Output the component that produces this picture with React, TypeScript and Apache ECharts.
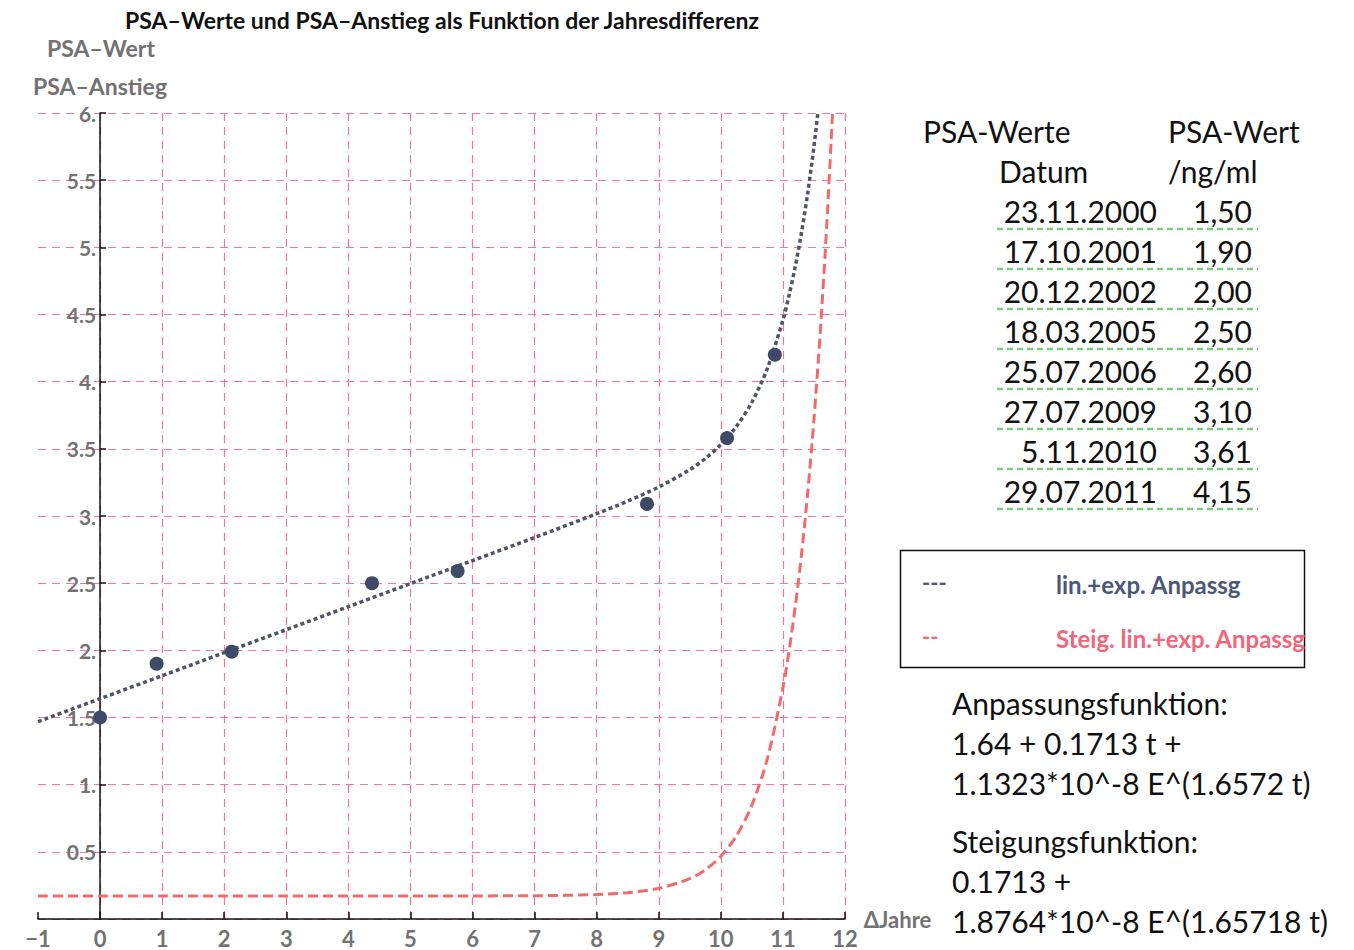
import React, { useEffect, useRef } from "react";
import * as echarts from "echarts";

// measured PSA points (Δ years, PSA value) as drawn
const pointX = [0, 0.91, 2.12, 4.38, 5.76, 8.81, 10.1, 10.87];
const pointY = [1.5, 1.9, 1.99, 2.5, 2.59, 3.09, 3.58, 4.2];

// fit curve (lin.+exp. Anpassg)
const fitT = [-1, 0, 1, 2, 3, 4, 5, 6, 7, 8, 8.5, 9, 9.5, 9.75, 10, 10.25, 10.5, 10.75, 11, 11.1, 11.2, 11.3, 11.4, 11.5, 11.58];
const fitV = [1.469, 1.64, 1.811, 1.983, 2.154, 2.325, 2.497, 2.668, 2.84, 3.017, 3.111, 3.216, 3.345, 3.428, 3.531, 3.666, 3.847, 4.099, 4.459, 4.645, 4.861, 5.112, 5.407, 5.751, 6.069];

// slope curve (Steig. lin.+exp. Anpassg)
const slopeT = [-1, 0, 1, 2, 3, 4, 5, 6, 7, 8, 8.5, 9, 9.5, 9.75, 10, 10.25, 10.5, 10.75, 11, 11.1, 11.2, 11.3, 11.4, 11.5, 11.6, 11.7, 11.8];
const slopeV = [0.171, 0.171, 0.171, 0.171, 0.171, 0.171, 0.171, 0.172, 0.173, 0.182, 0.196, 0.228, 0.3, 0.366, 0.467, 0.618, 0.848, 1.195, 1.721, 2.0, 2.329, 2.718, 3.177, 3.719, 4.358, 5.113, 6.003];

// table
const tableHead1 = ["PSA-Werte", "PSA-Wert"];
const tableHead2 = ["Datum", "/ng/ml"];
const tableDates = ["23.11.2000", "17.10.2001", "20.12.2002", "18.03.2005", "25.07.2006", "27.07.2009", "5.11.2010", "29.07.2011"];
const tableValues = ["1,50", "1,90", "2,00", "2,50", "2,60", "3,10", "3,61", "4,15"];

const legendLabels = ["lin.+exp. Anpassg", "Steig. lin.+exp. Anpassg"];
const formulaLines = [
  "Anpassungsfunktion:",
  "1.64 + 0.1713 t +",
  "1.1323*10^-8 E^(1.6572 t)",
];
const slopeLines = ["Steigungsfunktion:", "0.1713 +", "1.8764*10^-8 E^(1.65718 t)"];

const titleText = "PSA–Werte und PSA–Anstieg als Funktion der Jahresdifferenz";

const FONT = "Lato, 'Open Sans', sans-serif";
const PINK = "#f4739f";
const GRAY = "#727272";

export default function App() {
  const ref = useRef<HTMLDivElement>(null);
  useEffect(() => {
    if (!ref.current) return;
    const chart = echarts.init(ref.current, undefined, { renderer: "svg" });

    const graphics: any[] = [];
    const txt = (text: string, x: number, y: number, o: any = {}) =>
      graphics.push({
        type: "text",
        x,
        y,
        z: 10,
        style: {
          text,
          fill: o.fill || "#111",
          fontSize: o.size || 30,
          fontWeight: o.weight || "normal",
          fontFamily: FONT,
          align: o.align || "left",
          verticalAlign: "middle",
        },
      });

    txt(titleText, 442, 20, { size: 23, weight: "bold", align: "center" });
    txt("PSA–Wert", 101, 48, { size: 23, weight: "bold", align: "center", fill: GRAY });
    txt("PSA–Anstieg", 100, 86, { size: 23, weight: "bold", align: "center", fill: GRAY });

    txt(tableHead1[0], 923, 131);
    txt(tableHead1[1], 1168, 131);
    txt(tableHead2[0], 999, 171);
    txt(tableHead2[1], 1168, 171);
    tableDates.forEach((d, i) => {
      const y = 211 + i * 40;
      txt(d, 1157, y, { align: "right" });
      txt(tableValues[i], 1252, y, { align: "right" });
      graphics.push({
        type: "line",
        z: 10,
        shape: { x1: 997, y1: y + 18, x2: 1258, y2: y + 18 },
        style: { stroke: "#7dcf7d", lineWidth: 2.5, lineDash: [6, 4] },
      });
    });

    graphics.push({
      type: "rect",
      z: 10,
      shape: { x: 900.5, y: 550.5, width: 404, height: 117 },
      style: { fill: "#fff", stroke: "#111", lineWidth: 1.5 },
    });
    txt("---", 922, 582, { size: 22, weight: "bold", fill: "#555a66" });
    txt(legendLabels[0], 1056, 584, { size: 24, weight: "bold", fill: "#4b5878" });
    txt("--", 922, 636, { size: 22, weight: "bold", fill: "#f0677a" });
    txt(legendLabels[1], 1056, 638, { size: 24, weight: "bold", fill: "#f0677a" });

    formulaLines.forEach((l, i) => txt(l, 952, 703 + i * 40));
    slopeLines.forEach((l, i) => txt(l, 952, 841 + i * 40));

    const axisLineStyle = { color: "#111", width: 1.5 };
    const splitStyle = { color: PINK, type: [8, 6] as any, width: 1.2 };
    const gridW = 807;
    const unitX = gridW / 13;

    chart.setOption({
      animation: false,
      grid: { left: 38, top: 113, width: gridW, height: 806, containLabel: false },
      xAxis: {
        type: "value",
        min: -1,
        max: 12,
        interval: 1,
        name: "ΔJahre",
        nameLocation: "end",
        nameGap: 9,
        nameTextStyle: { color: GRAY, fontWeight: "bold", fontSize: 22, fontFamily: FONT },
        axisLine: { onZero: false, lineStyle: axisLineStyle },
        axisTick: { inside: true, length: 7, lineStyle: axisLineStyle },
        axisLabel: {
          color: GRAY,
          fontWeight: "bold",
          fontSize: 22,
          fontFamily: FONT,
          margin: 8,
          formatter: (v: number) => (v < 0 ? "−" + Math.abs(v) : String(v)),
        },
        splitLine: { show: true, showMinLine: false, lineStyle: splitStyle },
      },
      yAxis: {
        type: "value",
        min: 0,
        max: 6,
        interval: 0.5,
        offset: -unitX,
        axisLine: { show: true, onZero: false, lineStyle: axisLineStyle },
        axisTick: { show: true, inside: true, length: 6, lineStyle: axisLineStyle },
        axisLabel: {
          showMinLabel: false,
          color: GRAY,
          fontWeight: "bold",
          fontSize: 21,
          fontFamily: FONT,
          margin: 4,
          formatter: (v: number) => (Number.isInteger(v) ? v + "." : String(v)),
        },
        splitLine: { show: true, lineStyle: splitStyle },
      },
      series: [
        {
          type: "line",
          data: slopeT.map((t, i) => [t, slopeV[i]]),
          showSymbol: false,
          smooth: 0.3,
          lineStyle: { color: "#f26a6a", width: 3, type: [10, 5] },
          z: 3,
        },
        {
          type: "line",
          data: fitT.map((t, i) => [t, fitV[i]]),
          showSymbol: false,
          smooth: 0.3,
          lineStyle: { color: "#4f5567", width: 3.5, type: [4, 3] },
          z: 4,
        },
        {
          type: "scatter",
          data: pointX.map((x, i) => [x, pointY[i]]),
          symbolSize: 14,
          itemStyle: { color: "#3f4a68", opacity: 1 },
          z: 5,
        },
      ],
      graphic: graphics,
    });
    return () => chart.dispose();
  }, []);
  return (
    <div
      ref={ref}
      style={{ position: "absolute", left: 0, top: 0, width: 1354, height: 950 }}
    />
  );
}
